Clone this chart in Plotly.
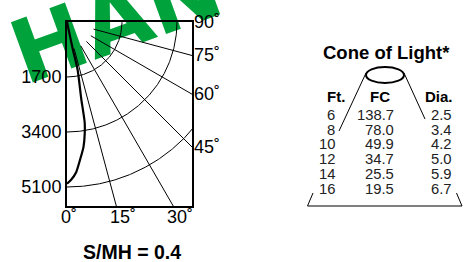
import numpy as np
import plotly.graph_objects as go

# ---------------- data ----------------
candela_ticks = [1700, 3400, 5100]
angle_lines = [15, 30, 45, 60, 75]
bottom_angle_labels = [0, 15, 30]
right_angle_labels = [45, 60, 75, 90]
beam_angle = [0, 1.5, 3.5, 5.5, 7.5, 9, 10, 10.5, 12.5, 12, 0]
beam_cd = [5000, 4880, 4650, 4260, 3900, 3500, 3140, 2420, 1520, 820, 0]
spacing_label = "S/MH = 0.4"
watermark_text = "HAN"

cone_title = "Cone of Light*"
cone_headers = ["Ft.", "FC", "Dia."]
cone_ft = [6, 8, 10, 12, 14, 16]
cone_fc = [138.7, 78.0, 49.9, 34.7, 25.5, 19.5]
cone_dia = [2.5, 3.4, 4.2, 5.0, 5.9, 6.7]

# ---------------- layout constants ----------------
W, H = 471, 262
PL, PT, PR, PB = 67, 22, 192, 206
CD_PER_PX = 1700 / 55.0
XMAX = (PR - PL) * CD_PER_PX
YMAX = (PB - PT) * CD_PER_PX
FONT = "Liberation Sans, Arial, sans-serif"
DEG = "\u02da"


def px(x):
    return (x - PL) / (PR - PL)


def py(y):
    return (PB - y) / (PB - PT)


fig = go.Figure()

# arcs
t = np.radians(np.linspace(0, 90, 300))
for c in candela_ticks:
    fig.add_trace(go.Scatter(x=c * np.sin(t), y=c * np.cos(t), mode="lines",
                             line=dict(color="black", width=1), hoverinfo="skip"))
# radial lines
for a in angle_lines:
    r = np.array([candela_ticks[0] / 2, 20000])
    ar = np.radians(a)
    fig.add_trace(go.Scatter(x=r * np.sin(ar), y=r * np.cos(ar), mode="lines",
                             line=dict(color="black", width=1), hoverinfo="skip"))
# beam curve
ba = np.radians(beam_angle)
bc = np.array(beam_cd)
fig.add_trace(go.Scatter(x=bc * np.sin(ba), y=bc * np.cos(ba), mode="lines",
                         line=dict(color="black", width=2.2, shape="spline",
                                   smoothing=0.6),
                         hoverinfo="skip"))


def note(x, y, text, size, xanchor="center", yanchor="middle", color="black",
         xref="paper", yref="paper", xshift=0, yshift=0):
    return dict(x=x, y=y, xref=xref, yref=yref, text=text, showarrow=False,
                xanchor=xanchor, yanchor=yanchor, xshift=xshift, yshift=yshift,
                borderpad=0,
                font=dict(size=size, color=color, family=FONT))


ann = []
for a in bottom_angle_labels:
    ann.append(note(YMAX * np.tan(np.radians(a)), YMAX, f"{a}{DEG}", 18,
                    xanchor="left", yanchor="top", xref="x", yref="y", xshift=-7,
                    yshift=0))
for a in right_angle_labels:
    yy = 0 if a == 90 else XMAX / np.tan(np.radians(a))
    ann.append(note(XMAX, yy, f"{a}{DEG}", 18, xanchor="left", xref="x",
                    yref="y", xshift=1))
ann.append(note(px(131.5), py(251.5), f"<b>{spacing_label}</b>", 19.5))
ann.append(note(px(386.5), py(53), f"<b>{cone_title}</b>", 18.5))
for hx, h in zip([335.5, 380, 439], cone_headers):
    ann.append(note(px(hx), py(96), f"<b>{h}</b>", 15))
for i, (f, fc, d) in enumerate(zip(cone_ft, cone_fc, cone_dia)):
    yy = py(115 + i * 14.7)
    for xr, s in zip([336, 395, 453], [str(f), f"{fc:.1f}", f"{d:.1f}"]):
        ann.append(note(px(xr), yy, s, 14.8, xanchor="right", color="#222"))

shapes = []
# watermark below everything
shapes.append(dict(type="rect", xref="paper", yref="paper",
                   x0=px(109), x1=px(119), y0=py(19), y1=py(9),
                   line=dict(width=0), fillcolor="rgba(0,0,0,0)", layer="below",
                   label=dict(text=watermark_text, textangle=-20,
                              textposition="middle center",
                              font=dict(size=88, color="#00a23c",
                                        family="DejaVu Sans, sans-serif",
                                        weight="bold"))))
# cone drawing
shapes.append(dict(type="circle", xref="paper", yref="paper",
                   x0=px(366), x1=px(404), y0=py(83), y1=py(67),
                   line=dict(color="black", width=2)))
for (x0, y0, x1, y1) in [(366, 73, 339, 131), (404, 73, 425, 119),
                         (313, 193, 307.5, 206), (307.5, 206, 462, 206),
                         (462, 206, 456.5, 193)]:
    shapes.append(dict(type="line", xref="paper", yref="paper",
                       x0=px(x0), y0=py(y0), x1=px(x1), y1=py(y1),
                       line=dict(color="black", width=1)))

fig.update_layout(
    width=W, height=H,
    margin=dict(l=PL, r=W - PR, t=PT, b=H - PB, pad=0),
    paper_bgcolor="white", plot_bgcolor="rgba(0,0,0,0)",
    showlegend=False,
    xaxis=dict(range=[0, XMAX], showgrid=False, zeroline=False, showline=True,
               mirror=True, linecolor="black", linewidth=2, showticklabels=False,
               ticks=""),
    yaxis=dict(range=[YMAX, 0], showgrid=False, zeroline=False, showline=True,
               mirror=True, linecolor="black", linewidth=2, ticks="",
               tickvals=candela_ticks, ticktext=[str(c) for c in candela_ticks],
               tickfont=dict(size=18, color="black", family=FONT)),
    annotations=ann, shapes=shapes,
)

fig.write_html("out.html", config={"displayModeBar": False},
               post_script="document.body.style.margin='0px';")
